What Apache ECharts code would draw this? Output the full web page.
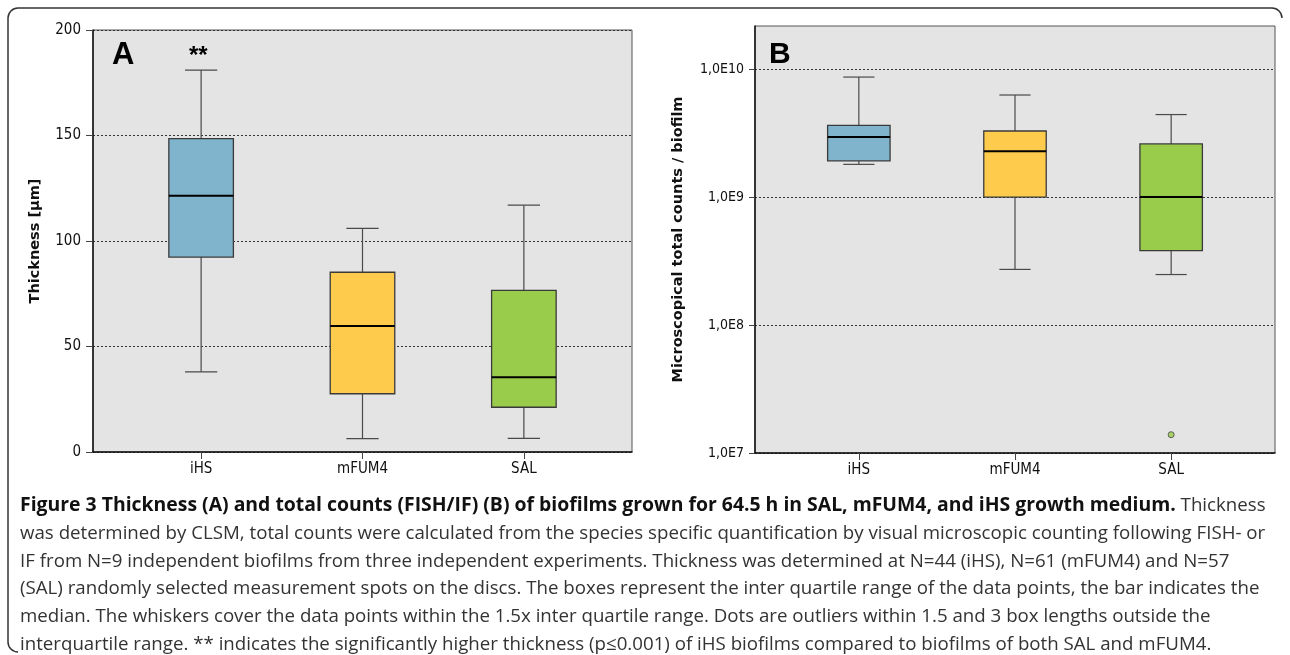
<!DOCTYPE html>
<html>
<head>
<meta charset="utf-8">
<script src="https://cdn.jsdelivr.net/npm/echarts@6/dist/echarts.min.js"></script>
<style>html,body{margin:0;padding:0;background:#fff;}#c{width:1290px;height:655px;}</style>
</head>
<body>
<div id="c"></div>
<script>
// ---- data ----
const categories = ['iHS', 'mFUM4', 'SAL'];
const boxColors = ['#80b3cc', '#fecb4d', '#9acc4b'];

// Panel A: thickness [µm]
const thickMin = [38, 6.3, 6.5];
const thickQ1 = [92.4, 27.6, 21.2];
const thickMedian = [121.5, 59.7, 35.4];
const thickQ3 = [148.5, 85.2, 76.6];
const thickMax = [181, 106, 117];
const thickTicks = [0, 50, 100, 150, 200];

// Panel B: total counts per biofilm
const countMin = [1.80e9, 2.72e8, 2.48e8];
const countQ1 = [1.92e9, 1.0e9, 3.81e8];
const countMedian = [2.94e9, 2.28e9, 1.0e9];
const countQ3 = [3.63e9, 3.28e9, 2.60e9];
const countMax = [8.66e9, 6.27e9, 4.41e9];
const countOutlierCat = [2];
const countOutlierVal = [1.39e7];
const countTickValues = [1e7, 1e8, 1e9, 1e10];
const countTickLabels = ['1,0E7', '1,0E8', '1,0E9', '1,0E10'];

const captionBold = 'Figure 3 Thickness (A) and total counts (FISH/IF) (B) of biofilms grown for 64.5 h in SAL, mFUM4, and iHS growth medium.';
const captionLines = [
  ' Thickness',
  'was determined by CLSM, total counts were calculated from the species specific quantification by visual microscopic counting following FISH- or',
  'IF from N=9 independent biofilms from three independent experiments. Thickness was determined at N=44 (iHS), N=61 (mFUM4) and N=57',
  '(SAL) randomly selected measurement spots on the discs. The boxes represent the inter quartile range of the data points, the bar indicates the',
  'median. The whiskers cover the data points within the 1.5x inter quartile range. Dots are outliers within 1.5 and 3 box lengths outside the',
  'interquartile range. ** indicates the significantly higher thickness (p\u22640.001) of iHS biofilms compared to biofilms of both SAL and mFUM4.'
];

// ---- chart ----
const NARROW = '"Liberation Sans Narrow", "DejaVu Sans Condensed", "Arial Narrow", sans-serif';
const chart = echarts.init(document.getElementById('c'));

function boxData(mn, q1, md, q3, mx) {
  return categories.map((c, i) => [i, mn[i], q1[i], md[i], q3[i], mx[i]]);
}

function makeRender(boxW, capW) {
  return function (params, api) {
    const x = api.value(0);
    const mn = api.value(1), q1 = api.value(2), md = api.value(3), q3 = api.value(4), mx = api.value(5);
    const pMin = api.coord([x, mn]), pQ1 = api.coord([x, q1]), pMd = api.coord([x, md]);
    const pQ3 = api.coord([x, q3]), pMax = api.coord([x, mx]);
    const bl = api.coord([x - boxW / 2, md])[0], br = api.coord([x + boxW / 2, md])[0];
    const cl = api.coord([x - capW / 2, md])[0], cr = api.coord([x + capW / 2, md])[0];
    const cx = pMd[0];
    const wStyle = { stroke: '#4a4a4a', lineWidth: 1.2 };
    const color = boxColors[params.dataIndex];
    return {
      type: 'group',
      children: [
        { type: 'line', shape: { x1: cx, y1: pQ3[1], x2: cx, y2: pMax[1] }, style: wStyle },
        { type: 'line', shape: { x1: cx, y1: pQ1[1], x2: cx, y2: pMin[1] }, style: wStyle },
        { type: 'line', shape: { x1: cl, y1: pMax[1], x2: cr, y2: pMax[1] }, style: wStyle },
        { type: 'line', shape: { x1: cl, y1: pMin[1], x2: cr, y2: pMin[1] }, style: wStyle },
        { type: 'rect', shape: { x: bl, y: pQ3[1], width: br - bl, height: pQ1[1] - pQ3[1] },
          style: { fill: color, stroke: '#3a3a3a', lineWidth: 1.3 } },
        { type: 'line', shape: { x1: bl, y1: pMd[1], x2: br, y2: pMd[1] }, style: { stroke: '#000', lineWidth: 2 } }
      ]
    };
  };
}

const gridStyle = { show: true, backgroundColor: '#e4e4e4', borderColor: '#555', borderWidth: 1, containLabel: false };
const splitStyle = { show: true, lineStyle: { color: '#333', type: [2, 2], width: 1 } };

function xAxisFor(gridIndex, margin) {
  return {
    type: 'value', gridIndex: gridIndex, min: -margin, max: 2 + margin,
    axisLine: { show: true, onZero: false, lineStyle: { color: '#111', width: 1.5 } },
    axisTick: { show: true, customValues: [0, 1, 2], length: 7, lineStyle: { color: '#444' } },
    axisLabel: { customValues: [0, 1, 2], formatter: v => categories[Math.round(v)], margin: 10,
                 fontFamily: NARROW, fontSize: 15, color: '#111' },
    splitLine: { show: false }
  };
}

const option = {
  backgroundColor: '#fff',
  animation: false,
  grid: [
    Object.assign({ left: 93, top: 30, width: 539, height: 422 }, gridStyle),
    Object.assign({ left: 755, top: 26, width: 520, height: 427 }, gridStyle)
  ],
  xAxis: [xAxisFor(0, 0.67), xAxisFor(1, 0.665)],
  yAxis: [
    {
      type: 'value', gridIndex: 0, min: 0, max: 200, interval: 50,
      name: 'Thickness [\u00b5m]', nameLocation: 'middle', nameGap: 50, nameRotate: 90,
      nameTextStyle: { fontFamily: '"DejaVu Sans", sans-serif', fontWeight: 'bold', fontSize: 14.5, color: '#111' },
      axisLine: { show: true, onZero: false, lineStyle: { color: '#111', width: 1.5 } },
      axisTick: { show: true, length: 7, lineStyle: { color: '#444' } },
      axisLabel: { margin: 12, fontFamily: NARROW, fontSize: 15, color: '#111', showMaxLabel: true },
      splitLine: splitStyle
    },
    {
      type: 'log', logBase: 10, gridIndex: 1, min: 1e7, max: 2.17e10,
      name: 'Microscopical total counts / biofilm', nameLocation: 'middle', nameGap: 69, nameRotate: 90,
      nameTextStyle: { fontFamily: '"DejaVu Sans", sans-serif', fontWeight: 'bold', fontSize: 14.5, color: '#111' },
      axisLine: { show: true, onZero: false, lineStyle: { color: '#111', width: 1.5 } },
      axisTick: { show: true, customValues: countTickValues, length: 6, lineStyle: { color: '#444' } },
      axisLabel: { customValues: countTickValues, margin: 11, fontFamily: NARROW, fontSize: 14, color: '#111',
                   formatter: v => { const i = countTickValues.findIndex(t => Math.abs(Math.log10(t) - Math.log10(v)) < 1e-6); return i >= 0 ? countTickLabels[i] : ''; } },
      splitLine: splitStyle
    }
  ],
  series: [
    { type: 'custom', xAxisIndex: 0, yAxisIndex: 0, renderItem: makeRender(0.4, 0.2),
      encode: { x: 0, y: [1, 2, 3, 4, 5] },
      data: boxData(thickMin, thickQ1, thickMedian, thickQ3, thickMax), z: 5 },
    { type: 'custom', xAxisIndex: 1, yAxisIndex: 1, renderItem: makeRender(0.4, 0.2),
      encode: { x: 0, y: [1, 2, 3, 4, 5] },
      data: boxData(countMin, countQ1, countMedian, countQ3, countMax), z: 5 },
    { type: 'scatter', xAxisIndex: 1, yAxisIndex: 1, symbol: 'circle', symbolSize: 6,
      itemStyle: { color: boxColors[2], borderColor: '#444', borderWidth: 1 },
      data: countOutlierCat.map((c, i) => [c, countOutlierVal[i]]), z: 6 }
  ],
  graphic: [
    // outer frame
    { type: 'line', shape: { x1: 18, y1: 8, x2: 1272, y2: 8 }, style: { stroke: '#333', lineWidth: 1.5 } },
    { type: 'arc', shape: { cx: 18, cy: 18, r: 10, startAngle: Math.PI, endAngle: Math.PI * 1.5 }, style: { stroke: '#333', lineWidth: 1.5, fill: null } },
    { type: 'arc', shape: { cx: 1272, cy: 18, r: 10, startAngle: Math.PI * 1.5, endAngle: Math.PI * 2 }, style: { stroke: '#333', lineWidth: 1.5, fill: null } },
    { type: 'line', shape: { x1: 8, y1: 18, x2: 8, y2: 642 }, style: { stroke: '#333', lineWidth: 1.5 } },
    { type: 'arc', shape: { cx: 18, cy: 642, r: 10, startAngle: Math.PI * 0.5, endAngle: Math.PI }, style: { stroke: '#333', lineWidth: 1.5, fill: null } },
    // panel letters
    { type: 'text', left: 112, top: 40, z: 10, style: { text: 'A', font: 'bold 31px "Liberation Sans", Arial, sans-serif', fill: '#000' } },
    { type: 'text', left: 189, top: 44, z: 10, style: { text: '**', font: 'bold 24px "Liberation Sans", Arial, sans-serif', fill: '#000' } },
    { type: 'text', left: 769, top: 40, z: 10, style: { text: 'B', font: 'bold 30px "Liberation Sans", Arial, sans-serif', fill: '#000' } },
    // caption
    { type: 'text', left: 20, top: 496, style: { rich: { b: { font: 'bold 19.4px "Open Sans", sans-serif', fill: '#111' }, r: { font: '18.7px "Open Sans", sans-serif', fill: '#333' } },
      text: '{b|' + captionBold + '}{r|' + captionLines[0] + '}' } },
  ].concat(captionLines.slice(1).map((t, i) => ({
    type: 'text', left: 20, top: 524 + i * 27.8,
    style: { text: t, font: '18.7px "Open Sans", sans-serif', fill: '#333' }
  })))
};
chart.setOption(option);
</script>
</body>
</html>
